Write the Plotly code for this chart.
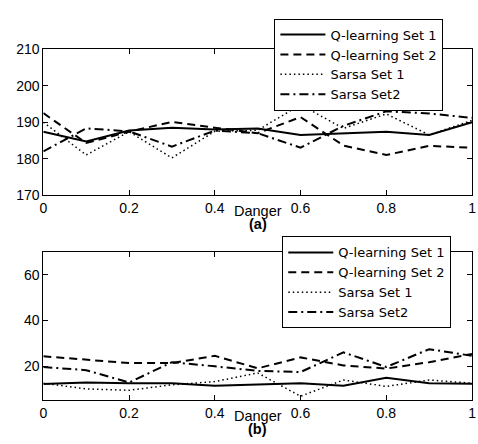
import plotly.graph_objects as go

danger = [0, 0.1, 0.2, 0.3, 0.4, 0.5, 0.6, 0.7, 0.8, 0.9, 1.0]
x_ticks = [0, 0.2, 0.4, 0.6, 0.8, 1]
x_tick_labels = ["0", "0.2", "0.4", "0.6", "0.8", "1"]

names = ["Q-learning Set 1", "Q-learning Set 2", "Sarsa Set 1", "Sarsa Set2"]

# (a) top panel
a_q1 = [187.4, 184.7, 187.7, 188.5, 188.0, 188.3, 186.5, 187.0, 187.4, 186.5, 190.0]
a_q2 = [192.5, 184.3, 187.4, 190.1, 188.5, 187.0, 191.4, 183.6, 181.0, 183.5, 183.0]
a_s1 = [190.0, 181.0, 187.4, 180.2, 187.5, 187.8, 194.8, 188.3, 192.3, 186.5, 190.5]
a_s2 = [182.0, 188.3, 187.5, 183.3, 187.7, 187.0, 183.0, 189.0, 193.0, 192.4, 191.2]
a_yticks = [170, 180, 190, 200, 210]

# (b) bottom panel
b_q1 = [12.1, 12.8, 12.5, 12.5, 11.4, 11.8, 12.5, 11.4, 14.9, 12.5, 12.3]
b_q2 = [24.3, 22.7, 21.3, 21.3, 24.5, 19.0, 23.8, 20.3, 18.9, 21.7, 25.3]
b_s1 = [12.5, 10.0, 9.4, 11.8, 13.2, 17.0, 6.8, 13.9, 11.1, 13.9, 12.5]
b_s2 = [19.6, 18.2, 12.8, 21.7, 19.9, 17.9, 17.4, 26.0, 19.6, 27.4, 24.5]
b_yticks = [20, 40, 60]

styles = [
    dict(color="black", width=2, dash="solid"),
    dict(color="black", width=2, dash="8px,5px"),
    dict(color="black", width=1.5, dash="1.5px,3px"),
    dict(color="black", width=2, dash="9px,4px,2px,4px"),
]

W, H = 478, 444
fig = go.Figure()

for series, name, st in zip([a_q1, a_q2, a_s1, a_s2], names, styles):
    fig.add_trace(go.Scatter(x=danger, y=series, mode="lines", name=name,
                             line=st, xaxis="x", yaxis="y", legend="legend"))
for series, name, st in zip([b_q1, b_q2, b_s1, b_s2], names, styles):
    fig.add_trace(go.Scatter(x=danger, y=series, mode="lines", name=name,
                             line=st, xaxis="x2", yaxis="y2", legend="legend2"))

font_family = "Liberation Sans, Arial, Helvetica, sans-serif"
legend_family = "DejaVu Sans, Liberation Sans, Arial, sans-serif"
axis_common = dict(showline=True, linecolor="black", linewidth=1, mirror="ticks",
                   ticks="inside", ticklen=5, tickcolor="black", showgrid=False,
                   zeroline=False, ticklabeloverflow="allow",
                   tickfont=dict(size=14, color="black", family=font_family))

legend_common = dict(xanchor="left", yanchor="top", bordercolor="black", borderwidth=1,
                     bgcolor="white", itemwidth=45, tracegroupgap=0,
                     font=dict(size=13, color="black", family=legend_family))

xdom = [40 / W, 476 / W]
fig.update_layout(
    width=W, height=H,
    margin=dict(l=0, r=0, t=0, b=0),
    paper_bgcolor="white", plot_bgcolor="white",
    font=dict(family=font_family, color="black"),
    xaxis=dict(domain=xdom, range=[0, 1], tickvals=x_ticks, ticktext=x_tick_labels,
               anchor="y", **axis_common),
    yaxis=dict(domain=[1 - 194 / H, 1 - 43 / H], range=[170, 210], tickvals=a_yticks,
               anchor="x", **axis_common),
    xaxis2=dict(domain=xdom, range=[0, 1], tickvals=x_ticks, ticktext=x_tick_labels,
                anchor="y2", **axis_common),
    yaxis2=dict(domain=[1 - 407 / H, 1 - 253 / H], range=[5, 70], tickvals=b_yticks,
                anchor="x2", **axis_common),
    legend=dict(x=275 / W, y=1 - 11 / H, **legend_common),
    legend2=dict(x=283 / W, y=1 - 237 / H, **legend_common),
    showlegend=True,
)

ann = [
    ("Danger", 258, 211, False),
    ("(a)", 258, 224, True),
    ("Danger", 258, 423, False),
    ("(b)", 258, 437, True),
]
for text, px, py, bold in ann:
    fig.add_annotation(text=("<b>%s</b>" % text) if bold else text,
                       x=px / W, y=1 - py / H, xref="paper", yref="paper",
                       showarrow=False, xanchor="center", yanchor="middle",
                       font=dict(size=14.5, color="black", family=font_family))

fig.write_html(
    "out.html",
    config={"displayModeBar": False},
    post_script="document.body.style.margin='0';document.body.style.overflow='hidden';",
)
